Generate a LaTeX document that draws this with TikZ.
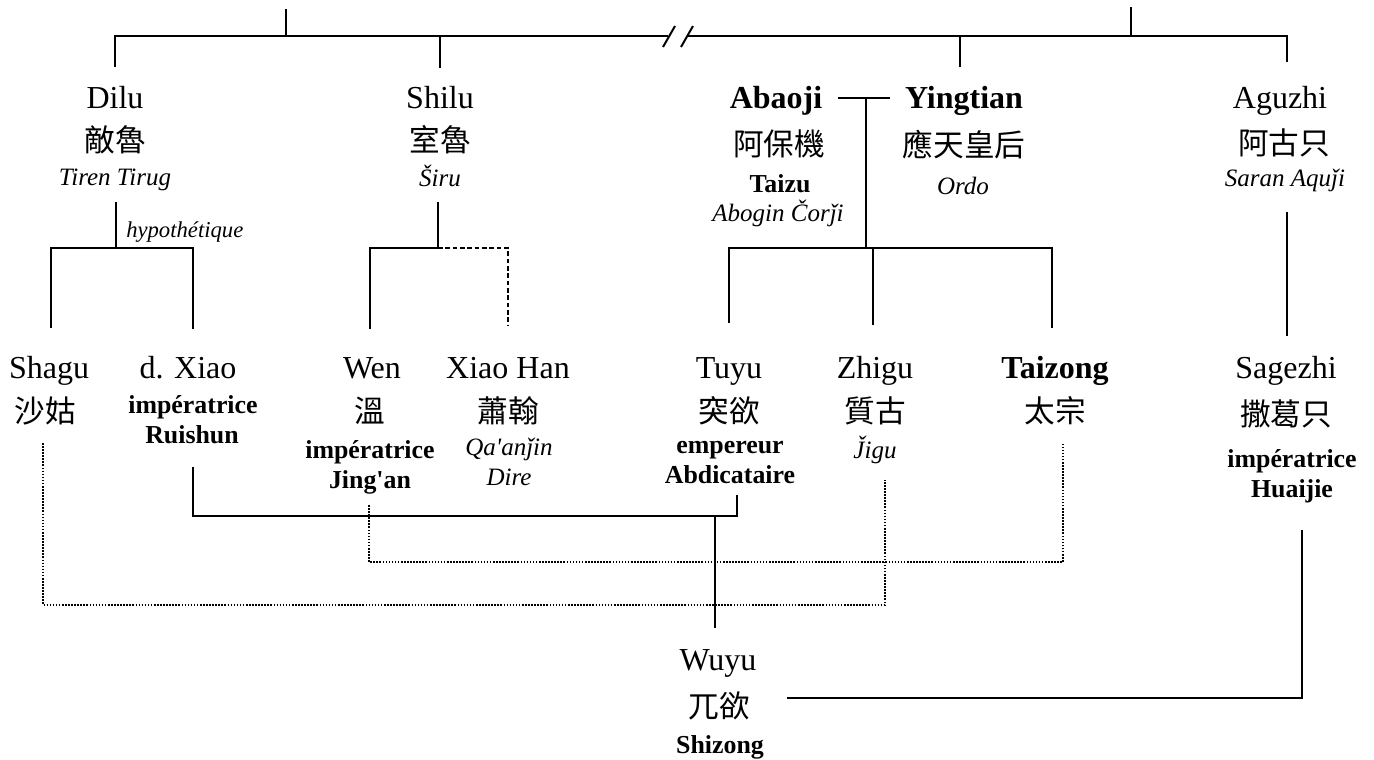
\documentclass[tikz,border=0pt]{standalone}
\usepackage{fontspec}
\setmainfont{Liberation Serif}
\newfontfamily\cjk{Noto Sans CJK TC}
\tikzset{
  lat/.style={anchor=base, inner sep=0pt, font=\fontsize{24}{28}\selectfont},
  bld/.style={anchor=base, inner sep=0pt, font=\fontsize{24}{28}\selectfont\bfseries},
  han/.style={anchor=center, inner sep=0pt, font=\fontsize{23}{27}\selectfont\cjk},
  ital/.style={anchor=base, inner sep=0pt, font=\fontsize{18.75}{22}\selectfont\itshape},
  ttl/.style={anchor=base, inner sep=0pt, font=\fontsize{19.4}{23}\selectfont\bfseries},
  kin/.style={line width=1.5pt},
  maybe/.style={line width=1.4pt, dash pattern=on 3.5pt off 2pt},
  tie/.style={line width=1.2pt, dash pattern=on 1.2pt off 1.1pt}
}
\begin{document}
\begin{tikzpicture}[x=0.75pt,y=0.75pt,yscale=-1,xscale=1]
\useasboundingbox (0,0) rectangle (1374,760);

% Text Node
\node[lat] (dilu) at (115,108) {Dilu};
\node[han] (dilu-zh) at (115,140) {敵魯};
\node[ital] (dilu-mo) at (115,185) {Tiren Tirug};
\node[anchor=base west, inner sep=0pt, font=\fontsize{17}{20}\selectfont\itshape] (hypo) at (126,237) {hypothétique};
% Text Node
\node[lat] (shilu) at (440,108) {Shilu};
\node[han] (shilu-zh) at (440,140) {室魯};
\node[ital] (shilu-mo) at (440,186) {Širu};
% Text Node
\node[bld] (abaoji) at (776,108) {Abaoji};
\node[han] (abaoji-zh) at (779,144) {阿保機};
\node[ttl] (abaoji-ttl) at (780,192) {Taizu};
\node[ital] (abaoji-mo) at (778,221) {Abogin Čorǰi};
% Text Node
\node[bld] (yingtian) at (964,108) {Yingtian};
\node[han] (yingtian-zh) at (964,145) {應天皇后};
\node[ital] (yingtian-mo) at (963,194) {Ordo};
% Text Node
\node[lat] (aguzhi) at (1280,108) {Aguzhi};
\node[han] (aguzhi-zh) at (1284,143) {阿古只};
\node[ital] (aguzhi-mo) at (1285,186) {Saran Aquǰi};

% Text Node
\node[lat] (shagu) at (49,378) {Shagu};
\node[han] (shagu-zh) at (45,411) {沙姑};
% Text Node
\node[lat] (xiao) at (188,378) {d. Xiao};
\node[ttl] (xiao-ttl) at (193,413) {impératrice};
\node[ttl] (xiao-ttl2) at (192,443) {Ruishun};
% Text Node
\node[lat] (wen) at (372,378) {Wen};
\node[han] (wen-zh) at (370,411) {溫};
\node[ttl] (wen-ttl) at (370,458) {impératrice};
\node[ttl] (wen-ttl2) at (370,488) {Jing\textquotesingle an};
% Text Node
\node[lat] (han) at (508,378) {Xiao Han};
\node[han] (han-zh) at (508,411) {蕭翰};
\node[ital] (han-mo) at (509,455) {Qa\textquotesingle anǰin};
\node[ital] (han-mo2) at (509,485) {Dire};
% Text Node
\node[lat] (tuyu) at (729,378) {Tuyu};
\node[han] (tuyu-zh) at (729,411) {突欲};
\node[ttl] (tuyu-ttl) at (730,453) {empereur};
\node[ttl] (tuyu-ttl2) at (730,483) {Abdicataire};
% Text Node
\node[lat] (zhigu) at (875,378) {Zhigu};
\node[han] (zhigu-zh) at (875,411) {質古};
\node[ital] (zhigu-mo) at (875,458) {\v{J}igu};
% Text Node
\node[bld] (taizong) at (1055,378) {Taizong};
\node[han] (taizong-zh) at (1055,411) {太宗};
% Text Node
\node[lat] (sagezhi) at (1286,378) {Sagezhi};
\node[han] (sagezhi-zh) at (1286,414) {撒葛只};
\node[ttl] (sagezhi-ttl) at (1292,467) {impératrice};
\node[ttl] (sagezhi-ttl2) at (1292,497) {Huaijie};
% Text Node
\node[lat] (wuyu) at (718,670) {Wuyu};
\node[han] (wuyu-zh) at (719,706) {兀欲};
\node[ttl] (wuyu-ttl) at (720,753) {Shizong};

% line ends
\coordinate (root-l) at (286,9);
\coordinate (root-r) at (1131,7);
\coordinate (top-l) at (115,36);
\coordinate (top-r) at (1287,36);
\coordinate (brk-l) at (668,36);
\coordinate (brk-r) at (687,36);
\coordinate (dilu-up) at (115,67);
\coordinate (shilu-up) at (440,68);
\coordinate (yingtian-up) at (960,67);
\coordinate (aguzhi-up) at (1287,62);
\coordinate (dilu-dn) at (116,202);
\coordinate (dilu-bar) at (116,248);
\coordinate (shilu-dn) at (438,202);
\coordinate (shagu-up) at (51,328);
\coordinate (xiao-up) at (193,329);
\coordinate (wen-up) at (370,329);
\coordinate (han-up) at (508,326);
\coordinate (wed-l) at (838,98);
\coordinate (wed-r) at (890,98);
\coordinate (wed) at (866,98);
\coordinate (tuyu-up) at (729,323);
\coordinate (zhigu-up) at (873,325);
\coordinate (taizong-up) at (1052,328);
\coordinate (aguzhi-dn) at (1287,212);
\coordinate (sagezhi-up) at (1287,336);
\coordinate (xiao-dn) at (193,467);
\coordinate (tuyu-dn) at (737,495);
\coordinate (couple) at (715,516);
\coordinate (wuyu-up) at (715,628);
\coordinate (wen-dn) at (369,505);
\coordinate (wen-mid) at (369,562);
\coordinate (taizong-dn) at (1063,443);
\coordinate (shagu-dn) at (43,443);
\coordinate (shagu-mid) at (43,605);
\coordinate (zhigu-dn) at (885,480);
\coordinate (sagezhi-dn) at (1302,530);
\coordinate (wuyu-r) at (787,698);

%Straight Lines
\draw[kin] (dilu-up) -- (top-l) -- (brk-l);
\draw[kin] (brk-r) -- (top-r) -- (aguzhi-up);
\draw[kin] (brk-l) ++(-5,11) -- ++(12,-21);
\draw[kin] (brk-r) ++(-6,11) -- ++(12,-21);
\draw[kin] (root-l) -- (root-l |- top-l);
\draw[kin] (root-r) -- (root-r |- top-l);
\draw[kin] (shilu-up) -- (shilu-up |- top-l);
\draw[kin] (yingtian-up) -- (yingtian-up |- top-l);
%Straight Lines
\draw[kin] (dilu-dn) -- (dilu-bar);
\draw[kin] (shagu-up) |- (xiao-up |- dilu-bar) -- (xiao-up);
\draw[kin] (shilu-dn) -- (shilu-dn |- dilu-bar);
\draw[kin] (wen-up) |- (shilu-dn |- dilu-bar);
\draw[maybe] (shilu-dn |- dilu-bar) -| (han-up);
%Straight Lines
\draw[kin] (wed-l) -- (wed-r);
\draw[kin] (wed) -- (wed |- dilu-bar);
\draw[kin] (tuyu-up) |- (taizong-up |- dilu-bar) -- (taizong-up);
\draw[kin] (zhigu-up) -- (zhigu-up |- dilu-bar);
\draw[kin] (aguzhi-dn) -- (sagezhi-up);
%Dotted Lines
\draw[tie] (wen-dn) -- (wen-mid) -| (taizong-dn);
\draw[tie] (shagu-dn) -- (shagu-mid) -| (zhigu-dn);
%Straight Lines
\draw[kin] (xiao-dn) |- (tuyu-dn |- couple) -- (tuyu-dn);
\draw[kin] (couple) -- (wuyu-up);
\draw[kin] (sagezhi-dn) |- (wuyu-r);

\end{tikzpicture}
\end{document}
